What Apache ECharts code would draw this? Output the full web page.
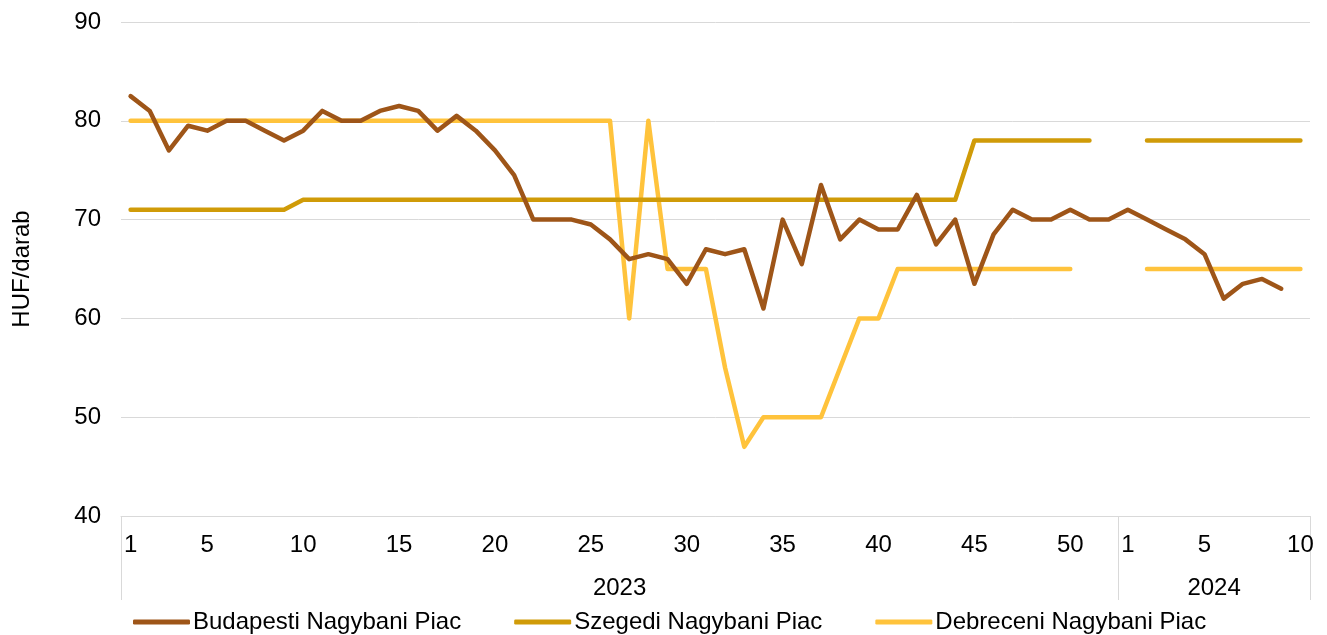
<!DOCTYPE html>
<html>
<head>
<meta charset="utf-8">
<script src="https://cdn.jsdelivr.net/npm/echarts@6/dist/echarts.min.js"></script>
<style>
html,body{margin:0;padding:0;background:#fff;}
#chart{width:1327px;height:635px;}
</style>
</head>
<body>
<div id="chart"></div>
<script>
// Categories: weeks of 2023 (1-52) and 2024 (1-10)
const years = ['2023', '2024'];
const weeks2023 = Array.from({length: 52}, (_, i) => String(i + 1));
const weeks2024 = Array.from({length: 10}, (_, i) => String(i + 1));
const shownWeekLabels = ['1', '5', '10', '15', '20', '25', '30', '35', '40', '45', '50'];

const seriesNames = ['Budapesti Nagybani Piac', 'Szegedi Nagybani Piac', 'Debreceni Nagybani Piac'];

// HUF/darab values (2023 w1..w52, then 2024 w1..w10)
const budapest = [
  82.5, 81, 77, 79.5, 79, 80, 80, 79, 78, 79,
  81, 80, 80, 81, 81.5, 81, 79, 80.5, 79, 77,
  74.5, 70, 70, 70, 69.5, 68, 66, 66.5, 66, 63.5,
  67, 66.5, 67, 61, 70, 65.5, 73.5, 68, 70, 69,
  69, 72.5, 67.5, 70, 63.5, 68.5, 71, 70, 70, 71,
  70, 70,
  71, 70, 69, 68, 66.5, 62, 63.5, 64, 63, null
];
const szeged = [
  71, 71, 71, 71, 71, 71, 71, 71, 71, 72,
  72, 72, 72, 72, 72, 72, 72, 72, 72, 72,
  72, 72, 72, 72, 72, 72, 72, 72, 72, 72,
  72, 72, 72, 72, 72, 72, 72, 72, 72, 72,
  72, 72, 72, 72, 78, 78, 78, 78, 78, 78,
  78, null,
  null, 78, 78, 78, 78, 78, 78, 78, 78, 78
];
const debrecen = [
  80, 80, 80, 80, 80, 80, 80, 80, 80, 80,
  80, 80, 80, 80, 80, 80, 80, 80, 80, 80,
  80, 80, 80, 80, 80, 80, 60, 80, 65, 65,
  65, 55, 47, 50, 50, 50, 50, 55, 60, 60,
  65, 65, 65, 65, 65, 65, 65, 65, 65, 65,
  null, null,
  null, 65, 65, 65, 65, 65, 65, 65, 65, 65
];

const yTicks = {min: 40, max: 90, interval: 10};
const colors = ['#9E5518', '#D09B08', '#FFC33C'];

// Build category data (unique keys, label = week number)
const categories = weeks2023.map(w => years[0] + '|' + w).concat(weeks2024.map(w => years[1] + '|' + w));
const n1 = weeks2023.length, nAll = categories.length;
// Year axis: boundary points (nAll+1), year label at middle of each block
const yearAxisData = Array.from({length: nAll + 1}, () => '');
yearAxisData[Math.round(n1 / 2)] = years[0];
yearAxisData[n1 + Math.round(weeks2024.length / 2)] = years[1];
const separators = [0, n1, nAll];

const FONT = 'Liberation Sans, Arial, sans-serif';
const chart = echarts.init(document.getElementById('chart'));
chart.setOption({
  animation: false,
  backgroundColor: '#fff',
  color: colors,
  textStyle: {fontFamily: FONT},
  grid: {left: 121, right: 17, top: 22, bottom: 119, containLabel: false},
  legend: {
    data: seriesNames,
    left: 133, top: 610,
    padding: 0,
    icon: 'roundRect',
    itemWidth: 57, itemHeight: 5,
    itemGap: 53,
    textStyle: {fontSize: 24, color: '#000', fontFamily: FONT, padding: [0, 0, 0, -2]}
  },
  xAxis: [{
    type: 'category',
    data: categories,
    boundaryGap: true,
    axisLine: {show: true, lineStyle: {color: '#d9d9d9', width: 1}},
    axisTick: {show: false},
    axisLabel: {
      interval: (i, v) => shownWeekLabels.includes(v.split('|')[1]),
      formatter: v => v.split('|')[1],
      fontSize: 24, color: '#000', margin: 17, fontFamily: FONT
    },
    splitLine: {show: false}
  }, {
    type: 'category',
    data: yearAxisData,
    boundaryGap: false,
    position: 'bottom',
    axisLine: {show: false},
    axisTick: {show: true, interval: (i) => separators.includes(i), length: 84, lineStyle: {color: '#d9d9d9', width: 1}},
    axisLabel: {interval: 0, fontSize: 24, color: '#000', margin: 60, fontFamily: FONT},
    splitLine: {show: false}
  }],
  yAxis: {
    type: 'value',
    min: yTicks.min, max: yTicks.max, interval: yTicks.interval,
    name: 'HUF/darab',
    nameLocation: 'middle',
    nameRotate: 90,
    nameGap: 87,
    nameTextStyle: {fontSize: 24, color: '#000', fontFamily: FONT},
    axisLine: {show: false},
    axisTick: {show: false},
    axisLabel: {fontSize: 24, color: '#000', margin: 20, fontFamily: FONT},
    splitLine: {lineStyle: {color: '#d9d9d9', width: 1}}
  },
  series: [budapest, szeged, debrecen].map((d, k) => ({
    name: seriesNames[k],
    type: 'line',
    data: d,
    xAxisIndex: 0,
    symbol: 'none',
    connectNulls: false,
    z: 3 - k,
    lineStyle: {width: 4.5, color: colors[k], cap: 'round', join: 'round'},
    itemStyle: {color: colors[k]}
  }))
});
</script>
</body>
</html>
